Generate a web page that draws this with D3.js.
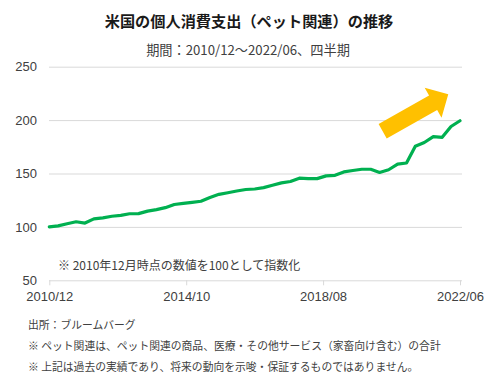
<!DOCTYPE html>
<html>
<head>
<meta charset="utf-8">
<script src="https://cdn.jsdelivr.net/npm/d3@7"></script>
<style>
	body { margin: 0; background: #fff; }
	svg { display: block; font-family: "Noto Sans CJK JP", "Noto Sans", sans-serif; }
</style>
</head>
<body>
<svg id=petchart width=493 height=375></svg>
<script>
// quarterly periods, 2010/12 .. 2022/06
const quarters = [
	"2010/12",
	"2011/03", "2011/06", "2011/09", "2011/12",
	"2012/03", "2012/06", "2012/09", "2012/12",
	"2013/03", "2013/06", "2013/09", "2013/12",
	"2014/03", "2014/06", "2014/09", "2014/12",
	"2015/03", "2015/06", "2015/09", "2015/12",
	"2016/03", "2016/06", "2016/09", "2016/12",
	"2017/03", "2017/06", "2017/09", "2017/12",
	"2018/03", "2018/06", "2018/09", "2018/12",
	"2019/03", "2019/06", "2019/09", "2019/12",
	"2020/03", "2020/06", "2020/09", "2020/12",
	"2021/03", "2021/06", "2021/09", "2021/12",
	"2022/03", "2022/06"
];
// index, 2010/12 = 100
const petIndex = [
	100, 101, 103, 104.8, 103.6, 107.5, 108.5, 110, 110.8, 112.3,
	112.4, 114.8, 116.2, 118, 121, 122, 123, 124, 127.5, 130.5,
	132, 133.6, 135, 135.5, 136.8, 139, 141.2, 142.5, 145.6, 145.2,
	145.2, 147.8, 148.3, 151.5, 152.8, 154, 154, 151, 153.5, 158.8,
	159.8, 175.5, 179, 184.6, 183.9, 194, 199.4
];
const yTicks = [50, 100, 150, 200, 250];
const xTickLabels = ["2010/12", "2014/10", "2018/08", "2022/06"];
// arrow annotation: [period, value] for tail and tip
const arrowFrom = ["2020/04", 189.6];
const arrowTo = ["2022/02", 224.2];

const parse = d3.timeParse("%Y/%m");
const svg = d3.select("#petchart");
const textColor = "#404040";
const numFont = "'Liberation Sans', Arial, sans-serif";

const x = d3.scaleTime()
	.domain([parse(quarters[0]), parse(quarters[quarters.length - 1])])
	.range([49.3, 460]);
const y = d3.scaleLinear().domain([50, 250]).range([280.3, 66.7]);

// title and subtitle
svg.append("text").attr("x", 249).attr("y", 27).attr("text-anchor", "middle")
	.attr("font-size", 15.2).attr("font-weight", 700).attr("fill", "#1a1a1a")
	.text("米国の個人消費支出（ペット関連）の推移");
svg.append("text").attr("x", 248).attr("y", 55).attr("text-anchor", "middle")
	.attr("font-size", 13.2).attr("fill", textColor)
	.text("期間：2010/12～2022/06、四半期");

// horizontal grid lines
const grid = svg.append("g").attr("transform", "translate(49,0)")
	.call(d3.axisLeft(y).tickValues(yTicks.slice(1)).tickSize(-413).tickFormat(""));
grid.select(".domain").remove();
grid.selectAll("line").attr("stroke", "#d9d9d9");

// y axis labels
const yaxis = svg.append("g").attr("transform", "translate(49,0)")
	.call(d3.axisLeft(y).tickValues(yTicks).tickSize(0).tickPadding(12));
yaxis.select(".domain").remove();
yaxis.selectAll("text").attr("font-family", numFont)
	.attr("font-size", 13).attr("fill", textColor);

// x axis
const xaxis = svg.append("g").attr("transform", `translate(0,${y(50)})`)
	.call(d3.axisBottom(x).tickValues(xTickLabels.map(parse)).tickSize(5).tickPadding(6)
		.tickSizeOuter(0).tickFormat(d3.timeFormat("%Y/%m")));
xaxis.select(".domain").attr("stroke", "#d9d9d9").attr("d", "M49,0.5H462");
xaxis.selectAll("line").attr("stroke", "#d9d9d9");
xaxis.selectAll("text").attr("font-family", numFont)
	.attr("font-size", 13).attr("fill", textColor);

// note inside plot
svg.append("text").attr("x", 58).attr("y", 270).attr("font-size", 12).attr("fill", textColor)
	.text("※ 2010年12月時点の数値を100として指数化");

// the line
const line = d3.line().x((d, i) => x(parse(quarters[i]))).y(d => y(d));
svg.append("path").datum(petIndex).attr("d", line)
	.attr("fill", "none").attr("stroke", "#00b050").attr("stroke-width", 3.2)
	.attr("stroke-linejoin", "round").attr("stroke-linecap", "round");

// block arrow
const ax0 = x(parse(arrowFrom[0])), ay0 = y(arrowFrom[1]);
const ax1 = x(parse(arrowTo[0])), ay1 = y(arrowTo[1]);
const len = Math.hypot(ax1 - ax0, ay1 - ay0);
const ang = Math.atan2(ay1 - ay0, ax1 - ax0) * 180 / Math.PI;
const tailW = 16.5, headW = 34.4, headL = 17.4;
svg.append("path")
	.attr("transform", `translate(${ax0},${ay0}) rotate(${ang})`)
	.attr("d", `M0,${-tailW / 2}H${len - headL}V${-headW / 2}L${len},0L${len - headL},${headW / 2}V${tailW / 2}H0Z`)
	.attr("fill", "#ffc000");

// footnotes
const notes = [
	"出所：ブルームバーグ",
	"※ ペット関連は、ペット関連の商品、医療・その他サービス（家畜向け含む）の合計",
	"※ 上記は過去の実績であり、将来の動向を示唆・保証するものではありません。"
];
svg.append("g").selectAll("text").data(notes).join("text")
	.attr("x", 28).attr("y", (d, i) => 329 + i * 21)
	.attr("font-size", 10.8).attr("fill", textColor)
	.text(d => d);
</script>
</body>
</html>
